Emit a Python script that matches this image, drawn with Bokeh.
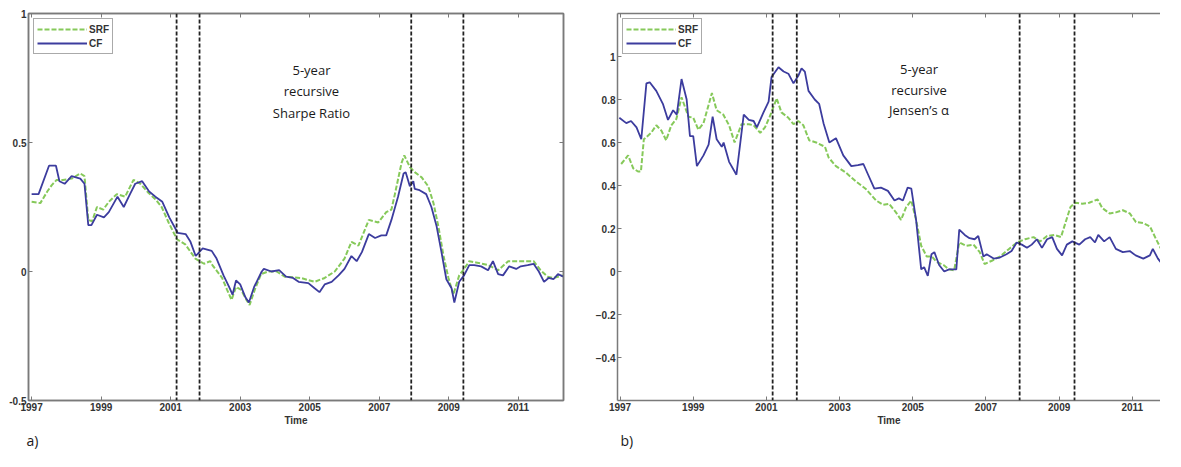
from bokeh.plotting import figure
from bokeh.layouts import row
from bokeh.models import (Range1d, FixedTicker, CustomJSTickFormatter, LinearAxis,
                          Span, Label, Title)
from bokeh.embed import file_html
from bokeh.resources import INLINE

# ---------------- data ----------------
recessions = [2001.17, 2001.83, 2007.92, 2009.42]
x_ticks = [1997, 1999, 2001, 2003, 2005, 2007, 2009, 2011]

# Panel a) 5-year recursive Sharpe ratio
sharpe_cf_t = [1997.0, 1997.2, 1997.5, 1997.7, 1997.8, 1997.95, 1998.15, 1998.4, 1998.52, 1998.63,
               1998.72, 1998.88, 1999.08, 1999.22, 1999.47, 1999.65, 1999.83, 1999.98, 2000.18, 2000.38,
               2000.56, 2000.76, 2000.96, 2001.2, 2001.43, 2001.57, 2001.72, 2001.92, 2002.18, 2002.32,
               2002.52, 2002.68, 2002.78, 2002.88, 2003.0, 2003.15, 2003.25, 2003.4, 2003.62, 2003.68,
               2003.9, 2004.12, 2004.32, 2004.52, 2004.68, 2004.96, 2005.14, 2005.28, 2005.43, 2005.63,
               2005.83, 2006.0, 2006.2, 2006.35, 2006.5, 2006.7, 2006.88, 2007.06, 2007.2, 2007.35,
               2007.54, 2007.7, 2007.76, 2007.88, 2007.98, 2008.02, 2008.16, 2008.35, 2008.5, 2008.65,
               2008.79, 2008.93, 2009.08, 2009.16, 2009.3, 2009.44, 2009.59, 2009.73, 2009.93, 2010.13,
               2010.27, 2010.42, 2010.56, 2010.74, 2010.94, 2011.07, 2011.27, 2011.44, 2011.59, 2011.74,
               2011.87, 2012.01, 2012.14, 2012.3]
sharpe_cf = [0.30, 0.30, 0.41, 0.41, 0.35, 0.34, 0.37, 0.36, 0.34, 0.18,
             0.18, 0.22, 0.21, 0.23, 0.29, 0.25, 0.30, 0.34, 0.35, 0.31,
             0.29, 0.27, 0.21, 0.15, 0.145, 0.115, 0.06, 0.09, 0.08, 0.05,
             -0.015, -0.06, -0.09, -0.035, -0.05, -0.10, -0.12, -0.06, 0.0, 0.01,
             0.0, 0.005, -0.02, -0.025, -0.04, -0.045, -0.065, -0.08, -0.05, -0.04,
             -0.015, 0.01, 0.06, 0.04, 0.075, 0.145, 0.13, 0.14, 0.14, 0.20,
             0.29, 0.38, 0.385, 0.33, 0.35, 0.32, 0.315, 0.30, 0.25, 0.175,
             0.075, -0.03, -0.065, -0.12, -0.04, -0.015, 0.025, 0.025, 0.02, 0.005,
             0.04, -0.01, -0.015, 0.02, 0.01, 0.02, 0.025, 0.03, 0.0, -0.04,
             -0.025, -0.03, -0.01, -0.02]

sharpe_srf_t = [1997.0, 1997.25, 1997.45, 1997.58, 1997.72, 1997.9, 1998.15, 1998.4, 1998.52, 1998.63,
                1998.74, 1998.88, 1999.06, 1999.22, 1999.45, 1999.69, 1999.93, 2000.13, 2000.36, 2000.56,
                2000.74, 2000.94, 2001.18, 2001.42, 2001.71, 2001.96, 2002.14, 2002.2, 2002.48, 2002.62,
                2002.75, 2002.88, 2003.02, 2003.18, 2003.27, 2003.42, 2003.6, 2003.8, 2004.05, 2004.28,
                2004.74, 2005.14, 2005.43, 2005.72, 2006.0, 2006.2, 2006.4, 2006.7, 2006.97, 2007.2,
                2007.35, 2007.45, 2007.64, 2007.72, 2007.88, 2008.02, 2008.22, 2008.41, 2008.56, 2008.7,
                2008.85, 2008.99, 2009.13, 2009.3, 2009.44, 2009.59, 2009.78, 2010.13, 2010.42, 2010.71,
                2011.07, 2011.44, 2011.64, 2011.84, 2012.01, 2012.3]
sharpe_srf = [0.27, 0.265, 0.31, 0.335, 0.355, 0.355, 0.36, 0.38, 0.37, 0.20,
              0.195, 0.25, 0.24, 0.27, 0.30, 0.29, 0.355, 0.34, 0.305, 0.28,
              0.25, 0.19, 0.125, 0.105, 0.05, 0.03, 0.04, 0.025, -0.025, -0.07,
              -0.11, -0.06, -0.07, -0.11, -0.13, -0.07, -0.01, 0.0, 0.0, -0.02,
              -0.025, -0.04, -0.025, 0.0, 0.05, 0.115, 0.10, 0.20, 0.19, 0.23,
              0.24, 0.30, 0.42, 0.45, 0.405, 0.385, 0.365, 0.33, 0.265, 0.175,
              0.06, -0.025, -0.09, -0.015, 0.01, 0.04, 0.035, 0.025, 0.005, 0.04,
              0.04, 0.04, 0.005, -0.02, -0.025, -0.015]

# Panel b) 5-year recursive Jensen's alpha
alpha_cf_t = [1996.98, 1997.17, 1997.3, 1997.45, 1997.58, 1997.72, 1997.81, 1997.99, 1998.17, 1998.31,
              1998.45, 1998.55, 1998.68, 1998.82, 1998.91, 1999.0, 1999.1, 1999.28, 1999.42, 1999.53,
              1999.64, 1999.78, 1999.83, 1999.98, 2000.18, 2000.38, 2000.52, 2000.65, 2000.74, 2000.92,
              2001.06, 2001.14, 2001.33, 2001.47, 2001.6, 2001.74, 2001.87, 2001.96, 2002.05, 2002.15,
              2002.32, 2002.44, 2002.56, 2002.72, 2002.9, 2003.1, 2003.32, 2003.5, 2003.65, 2003.78,
              2003.95, 2004.13, 2004.32, 2004.5, 2004.62, 2004.73, 2004.86, 2004.96, 2005.09, 2005.23,
              2005.31, 2005.41, 2005.51, 2005.59, 2005.72, 2005.86, 2005.99, 2006.19, 2006.27, 2006.42,
              2006.55, 2006.69, 2006.79, 2006.93, 2007.02, 2007.21, 2007.38, 2007.56, 2007.7, 2007.84,
              2007.98, 2008.12, 2008.25, 2008.39, 2008.53, 2008.67, 2008.81, 2008.94, 2009.08, 2009.21,
              2009.36, 2009.55, 2009.71, 2009.85, 2009.98, 2010.07, 2010.23, 2010.38, 2010.55, 2010.74,
              2010.93, 2011.09, 2011.3, 2011.48, 2011.56, 2011.7, 2011.9, 2012.1]
alpha_cf = [0.715, 0.69, 0.70, 0.67, 0.615, 0.875, 0.88, 0.84, 0.78, 0.705,
            0.75, 0.73, 0.895, 0.80, 0.63, 0.63, 0.49, 0.54, 0.59, 0.72,
            0.615, 0.58, 0.60, 0.51, 0.45, 0.73, 0.705, 0.70, 0.67, 0.74,
            0.79, 0.905, 0.95, 0.93, 0.92, 0.875, 0.91, 0.945, 0.93, 0.84,
            0.80, 0.78, 0.69, 0.60, 0.62, 0.54, 0.49, 0.495, 0.50, 0.45,
            0.385, 0.39, 0.375, 0.33, 0.34, 0.33, 0.39, 0.385, 0.24, 0.01,
            0.02, -0.02, 0.08, 0.09, 0.03, 0.0, 0.01, 0.01, 0.195, 0.17,
            0.155, 0.15, 0.165, 0.07, 0.08, 0.06, 0.065, 0.08, 0.095, 0.135,
            0.125, 0.11, 0.125, 0.15, 0.11, 0.15, 0.16, 0.105, 0.075, 0.125,
            0.14, 0.125, 0.15, 0.16, 0.135, 0.17, 0.14, 0.16, 0.105, 0.09,
            0.095, 0.075, 0.06, 0.075, 0.105, 0.06, 0.015, -0.015]

alpha_srf_t = [1997.03, 1997.22, 1997.36, 1997.49, 1997.57, 1997.65, 1997.85, 1997.99, 1998.13, 1998.26,
               1998.4, 1998.54, 1998.68, 1998.87, 1999.0, 1999.14, 1999.28, 1999.51, 1999.64, 1999.82,
               1999.98, 2000.13, 2000.32, 2000.52, 2000.65, 2000.83, 2000.96, 2001.09, 2001.28, 2001.41,
               2001.6, 2001.74, 2001.87, 2002.01, 2002.17, 2002.36, 2002.6, 2002.7, 2002.9, 2003.17,
               2003.44, 2003.71, 2004.0, 2004.19, 2004.35, 2004.54, 2004.68, 2004.82, 2004.96, 2005.09,
               2005.23, 2005.38, 2005.52, 2005.65, 2005.84, 2005.99, 2006.13, 2006.27, 2006.46, 2006.66,
               2006.83, 2006.96, 2007.16, 2007.39, 2007.63, 2007.85, 2008.07, 2008.3, 2008.48, 2008.67,
               2008.87, 2009.05, 2009.17, 2009.31, 2009.44, 2009.63, 2009.82, 2010.05, 2010.18, 2010.38,
               2010.55, 2010.74, 2010.93, 2011.1, 2011.3, 2011.48, 2011.65, 2011.83, 2012.02, 2012.1]
alpha_srf = [0.50, 0.54, 0.48, 0.465, 0.465, 0.615, 0.645, 0.68, 0.655, 0.61,
             0.68, 0.71, 0.81, 0.72, 0.715, 0.66, 0.69, 0.83, 0.75, 0.73,
             0.68, 0.60, 0.685, 0.685, 0.68, 0.645, 0.67, 0.72, 0.805, 0.74,
             0.715, 0.685, 0.70, 0.68, 0.61, 0.60, 0.58, 0.53, 0.49, 0.46,
             0.42, 0.385, 0.33, 0.31, 0.315, 0.275, 0.24, 0.30, 0.33, 0.24,
             0.12, 0.07, 0.07, 0.045, 0.03, 0.01, 0.005, 0.135, 0.12, 0.125,
             0.09, 0.035, 0.05, 0.07, 0.105, 0.135, 0.15, 0.16, 0.14, 0.165,
             0.17, 0.16, 0.225, 0.30, 0.32, 0.315, 0.32, 0.335, 0.295, 0.27,
             0.275, 0.285, 0.27, 0.23, 0.225, 0.21, 0.15, 0.09, 0.03, -0.01]

# ---------------- style ----------------
SRF_COLOR = "#86c95a"
CF_COLOR = "#3c3c9e"
AXIS_COLOR = "#7a7a7a"
TICK_TEXT = "#333333"
TICK_FONT = "Liberation Sans"
NOTE_FONT = "Open Sans"


def style_axis(ax, show_labels=True):
    ax.axis_line_color = AXIS_COLOR
    ax.axis_line_width = 1.5
    ax.major_tick_line_color = AXIS_COLOR
    ax.major_tick_in = 4
    ax.major_tick_out = 0
    ax.minor_tick_line_color = None
    ax.major_label_text_font = TICK_FONT
    ax.major_label_text_font_style = "bold"
    ax.major_label_text_color = TICK_TEXT
    if show_labels:
        ax.major_label_text_font_size = "10px"
        ax.major_label_standoff = 2
    else:
        ax.major_label_text_font_size = "0px"
        ax.major_label_standoff = 0
        ax.formatter = CustomJSTickFormatter(code="return ''")


def make_panel(width, height, borders, xr, yr, y_ticks, y_fmt_code,
               srf_t, srf_v, cf_t, cf_v, note_lines, note_x, note_y, tag, tag_offset,
               right_axis=True):
    p = figure(width=width, height=height,
               output_backend="svg", toolbar_location=None,
               x_range=Range1d(*xr), y_range=Range1d(*yr),
               min_border_left=borders[0], min_border_right=borders[1],
               min_border_top=borders[2], min_border_bottom=borders[3])
    p.background_fill_color = "white"
    p.border_fill_color = "white"
    p.grid.grid_line_color = None
    p.outline_line_color = AXIS_COLOR if right_axis else None
    p.outline_line_width = 1.5

    p.xaxis.ticker = FixedTicker(ticks=x_ticks)
    p.yaxis.ticker = FixedTicker(ticks=y_ticks)
    p.yaxis.formatter = CustomJSTickFormatter(code=y_fmt_code)
    style_axis(p.xaxis[0])
    style_axis(p.yaxis[0])
    p.xaxis.axis_label = "Time"
    p.xaxis.axis_label_text_font = TICK_FONT
    p.xaxis.axis_label_text_font_size = "10px"
    p.xaxis.axis_label_text_font_style = "bold"
    p.xaxis.axis_label_text_color = TICK_TEXT
    p.xaxis.axis_label_standoff = 1

    top = LinearAxis(ticker=FixedTicker(ticks=x_ticks))
    style_axis(top, show_labels=False)
    p.add_layout(top, "above")
    if right_axis:
        rgt = LinearAxis(ticker=FixedTicker(ticks=y_ticks))
        style_axis(rgt, show_labels=False)
        p.add_layout(rgt, "right")

    for loc in recessions:
        p.add_layout(Span(location=loc, dimension="height", line_color="#222222",
                          line_width=1.8, line_dash="4 2"))

    p.line(srf_t, srf_v, line_color=SRF_COLOR, line_width=2, line_dash="5 2",
           legend_label="SRF")
    p.line(cf_t, cf_v, line_color=CF_COLOR, line_width=1.8, legend_label="CF")

    lg = p.legend[0]
    lg.location = "top_left"
    lg.margin = 5
    lg.padding = 3
    lg.spacing = 0
    lg.glyph_width = 50
    lg.glyph_height = 14
    lg.label_height = 14
    lg.label_standoff = 2
    lg.label_text_font = TICK_FONT
    lg.label_text_font_size = "10px"
    lg.label_text_font_style = "bold"
    lg.label_text_color = TICK_TEXT
    lg.border_line_color = "#555555"
    lg.border_line_width = 1.5
    lg.background_fill_alpha = 1

    for line, yy in zip(note_lines, note_y):
        p.add_layout(Label(x=note_x, y=yy, text=line, text_align="center",
                           text_baseline="middle", text_font=NOTE_FONT,
                           text_font_size="13px", text_color="#1a1a1a"))

    p.add_layout(Title(text=tag, align="left", text_font=NOTE_FONT,
                       text_font_size="14px", text_font_style="normal",
                       text_color="#1a1a1a", offset=tag_offset, standoff=0,
                       text_line_height=1.0), "below")
    return p


left = make_panel(580, 449, (28, 17, 13, 10), (1996.91, 2012.3), (-0.5, 1.0),
                  [-0.5, 0, 0.5, 1], "return tick.toString()",
                  sharpe_srf_t, sharpe_srf, sharpe_cf_t, sharpe_cf,
                  ["5-year", "recursive", "Sharpe Ratio"], 2005.05, [0.78, 0.70, 0.615],
                  "a)", -2)

right = make_panel(580, 449, (37, 0, 9, 10), (1996.93, 2011.77), (-0.6, 1.2),
                   [-0.4, -0.2, 0, 0.2, 0.4, 0.6, 0.8, 1.0],
                   "return Number(tick.toFixed(1)).toString().replace('-', '\u2212')",
                   alpha_srf_t, alpha_srf, alpha_cf_t, alpha_cf,
                   ["5-year", "recursive", "Jensen\u2019s \u03b1"], 2005.17, [0.94, 0.846, 0.75],
                   "b)", 3, right_axis=False)

layout = row(left, right)
open("out.html", "w").write(file_html(layout, INLINE))
